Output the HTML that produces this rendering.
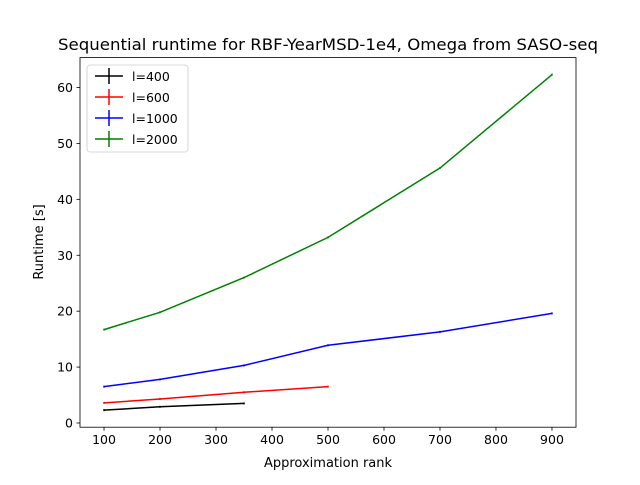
<!DOCTYPE html>
<html><head><meta charset="utf-8"><style>
body{margin:0;background:#fff;}
svg text{font-family:"DejaVu Sans","Liberation Sans",sans-serif;}
</style></head><body>
<svg id="chart" width="640" height="480" xmlns="http://www.w3.org/2000/svg">
<rect width="640" height="480" fill="#fff"/>
<text x="328" y="50" text-anchor="middle" font-size="16" textLength="540" lengthAdjust="spacingAndGlyphs">Sequential runtime for RBF-YearMSD-1e4, Omega from SASO-seq</text>
<g id="grid"></g>
<g id="series"></g>
<rect x="80" y="57.6" width="496" height="369.6" fill="none" stroke="#000" stroke-width="0.8"/>
<text x="328" y="467" text-anchor="middle" font-size="13">Approximation rank</text>
<text transform="translate(43,242) rotate(-90)" text-anchor="middle" font-size="13">Runtime [s]</text>
<g id="legend"></g>
</svg>
<script>
const xTicks=[100,200,300,400,500,600,700,800,900];
const yTicks=[0,10,20,30,40,50,60];
const seriesNames=["l=400","l=600","l=1000","l=2000"];
const seriesColors=["#000000","#ff0000","#0000ff","#008000"];
const x400=[100,200,350];
const y400=[2.3,2.9,3.5];
const x600=[100,200,350,500];
const y600=[3.6,4.3,5.5,6.5];
const x1000=[100,200,350,500,700,900];
const y1000=[6.5,7.8,10.3,13.9,16.3,19.6];
const x2000=[100,200,350,500,700,900];
const y2000=[16.7,19.8,26.0,33.2,45.6,62.3];
const NS="http://www.w3.org/2000/svg";
const L=80,R=576,T=57.6,B=427.2;
const xmin=57.1,xmax=942.9,ymin=-0.75,ymax=65.35;
const sx=v=>L+(v-xmin)/(xmax-xmin)*(R-L);
const sy=v=>B-(v-ymin)/(ymax-ymin)*(B-T);
function mk(tag,attrs,parent){const e=document.createElementNS(NS,tag);for(const k in attrs)e.setAttribute(k,attrs[k]);parent.appendChild(e);return e;}
const grid=document.getElementById('grid');
xTicks.forEach(t=>{
  const l=mk('line',{x1:sx(t),x2:sx(t),y1:B,y2:B+3.5,stroke:'#000','stroke-width':0.8},grid);
  
  
  const tx=mk('text',{x:sx(t),y:B+17,'text-anchor':'middle','font-size':12.5},grid);
  
  
  tx.textContent=t;
});
yTicks.forEach(t=>{
  const l=mk('line',{x1:L-3.5,x2:L,y1:sy(t),y2:sy(t),stroke:'#000','stroke-width':0.8},grid);
  
  
  const tx=mk('text',{x:L-7,y:sy(t)+4.5,'text-anchor':'end','font-size':12.5},grid);
  
  
  tx.textContent=t;
});
const sg=document.getElementById('series');
const allX=[x400,x600,x1000,x2000],allY=[y400,y600,y1000,y2000];
allX.forEach((xs,i)=>{
  const pts=xs.map((x,j)=>sx(x)+','+sy(allY[i][j])).join(' ');
  const p=mk('polyline',{points:pts,fill:'none',stroke:seriesColors[i],'stroke-width':1.5},sg);
  
  
  xs.forEach((x,j)=>{
    const e=mk('line',{x1:sx(x),x2:sx(x),y1:sy(allY[i][j])-1,y2:sy(allY[i][j])+1,stroke:seriesColors[i],'stroke-width':1.5},sg);
    
    
  });
});
const lg=document.getElementById('legend');
mk('rect',{x:87,y:65,width:101,height:87,rx:3,fill:'#fff',stroke:'#ccc','stroke-width':0.8},lg);
seriesNames.forEach((n,i)=>{
  const y=76+i*21;
  const g=mk('g',{},lg);
  
  
  mk('line',{x1:95,x2:123,y1:y,y2:y,stroke:seriesColors[i],'stroke-width':1.5},g);
  mk('line',{x1:109,x2:109,y1:y-8,y2:y+8,stroke:seriesColors[i],'stroke-width':1.5},g);
  const t=mk('text',{x:132,y:y+5,'font-size':12.5},g);
  t.textContent=n;
});
</script>
</body></html>
